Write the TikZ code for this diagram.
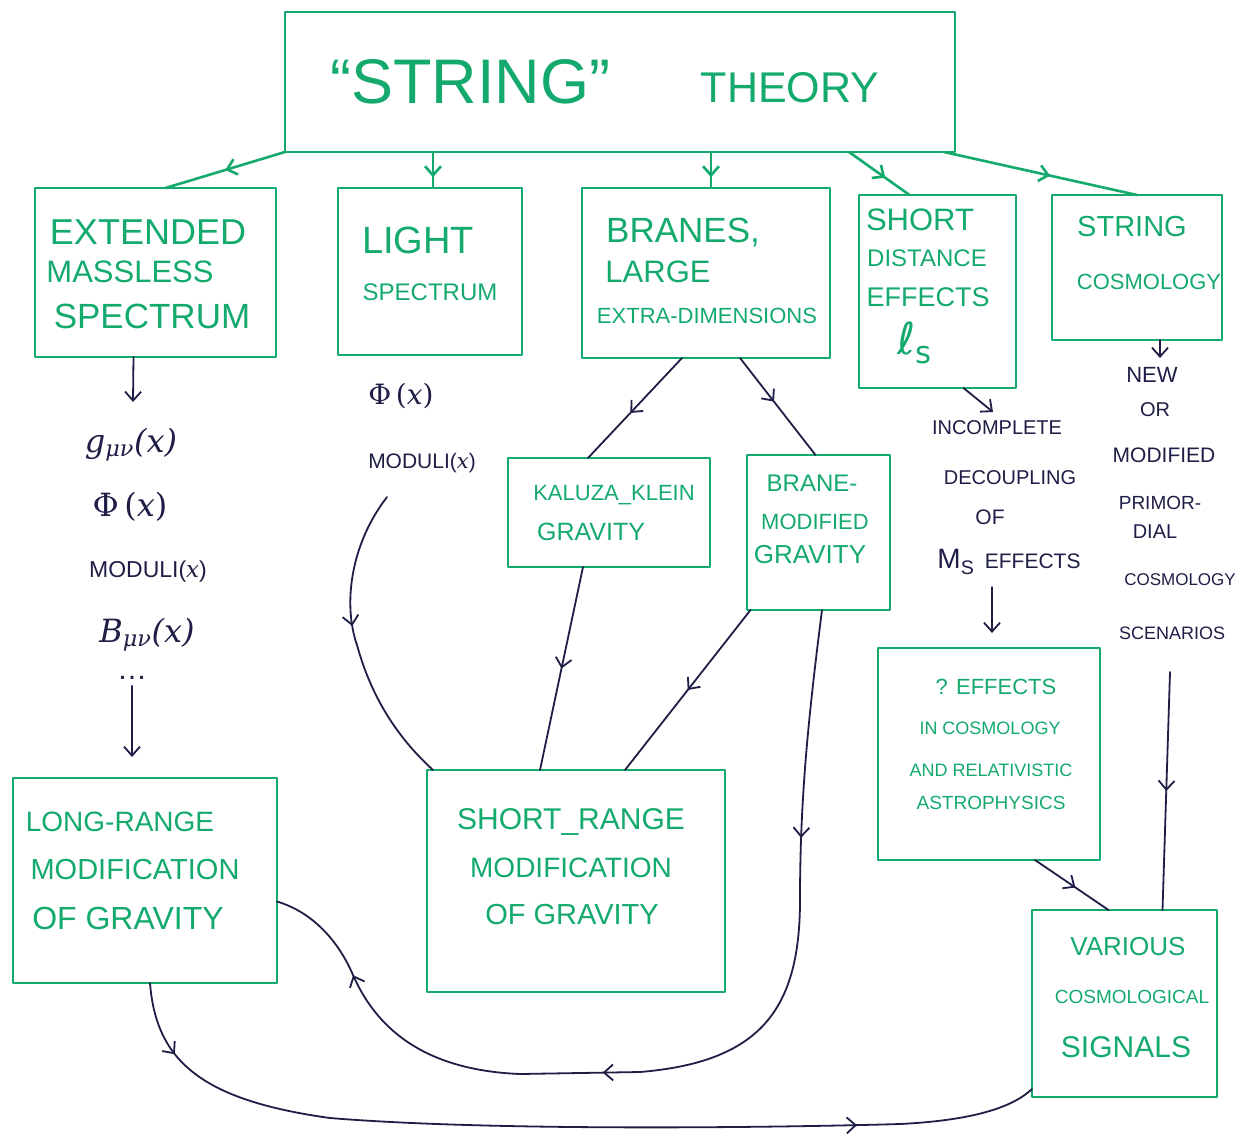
\documentclass[tikz,border=0pt]{standalone}
\usepackage{fontspec}
\setmainfont{Liberation Sans}
\newfontfamily\mfont{DejaVu Serif}
\newfontfamily\dvs{DejaVu Sans}
\usetikzlibrary{arrows.meta,decorations.markings}
\definecolor{grn}{RGB}{20,170,110}
\definecolor{inkc}{RGB}{30,30,70}
\newcommand\myfs[1]{\fontsize{#1}{#1}\selectfont}
\begin{document}
\begin{tikzpicture}[x=1pt,y=-1pt,
  gbox/.style={draw=grn, line width=2.8pt, inner sep=0pt, outer sep=0pt, line join=round},
  gline/.style={draw=grn, line width=2.6pt, line cap=round},
  iline/.style={draw=inkc, line width=1.8pt, line cap=round},
  gt/.style={text=grn, inner sep=0pt},
  it/.style={text=inkc, inner sep=0pt},
  midarr/.style={postaction={decorate,decoration={markings,mark=at position #1 with {\arrow{Straight Barb[length=9pt,width=16pt]}}}}},
  endarr/.style={-{Straight Barb[length=9pt,width=16pt]}},
]
\useasboundingbox (0,0) rectangle (1239,1140);
\fill[white] (0,0) rectangle (1239,1140);

% ---------- boxes ----------
\node[gbox, minimum width=670pt, minimum height=140pt] (top) at (620,82) {};
\node[gbox, minimum width=241pt, minimum height=169pt] (ext) at (155.5,272.5) {};
\node[gbox, minimum width=184pt, minimum height=167pt] (light) at (430,271.5) {};
\node[gbox, minimum width=248pt, minimum height=170pt] (branes) at (706,273) {};
\node[gbox, minimum width=157pt, minimum height=193pt] (short) at (937.5,291.5) {};
\node[gbox, minimum width=170pt, minimum height=145pt] (strcos) at (1137,267.5) {};
\node[gbox, minimum width=202pt, minimum height=109pt] (kk) at (609,512.5) {};
\node[gbox, minimum width=143pt, minimum height=155pt] (bm) at (818.5,532.5) {};
\node[gbox, minimum width=222pt, minimum height=212pt] (eff) at (989,754) {};
\node[gbox, minimum width=264pt, minimum height=205pt] (lr) at (145,880.5) {};
\node[gbox, minimum width=298pt, minimum height=222pt] (sr) at (576,881) {};
\node[gbox, minimum width=185pt, minimum height=187pt] (vc) at (1124.5,1003.5) {};

% ---------- green texts ----------
\node[gt] (tstr) at (470,82) {\myfs{63}“STRING”};
\node[gt] (tthe) at (790,88) {\myfs{43}THEORY};

\node[gt] (e1) at (148,232) {\myfs{36}EXTENDED};
\node[gt] (e2) at (130,272) {\myfs{31}MASSLESS};
\node[gt] (e3) at (152,316) {\myfs{35}SPECTRUM};

\node[gt] (l1) at (418,240) {\myfs{38}LIGHT};
\node[gt] (l2) at (430,292) {\myfs{24}SPECTRUM};

\node[gt] (b1) at (683,233) {\myfs{35}BRANES,};
\node[gt] (b2) at (658,272) {\myfs{31}LARGE};
\node[gt] (b3) at (707,316) {\myfs{22}EXTRA-DIMENSIONS};

\node[gt] (s1) at (920,220) {\myfs{31}SHORT};
\node[gt] (s2) at (927,258) {\myfs{24}DISTANCE};
\node[gt] (s3) at (928,297) {\myfs{27}EFFECTS};
\node[gt] (s4) at (915,343) {\myfs{44}\dvs ℓ\textsubscript{s}};

\node[gt] (c1) at (1132,227) {\myfs{29}STRING};
\node[gt] (c2) at (1149,282) {\myfs{22}COSMOLOGY};

\node[gt] (k1) at (614,495) {\myfs{22}KALUZA\_KLEIN};
\node[gt] (k2) at (591,532) {\myfs{25}GRAVITY};

\node[gt] (m1) at (812,483) {\myfs{24}BRANE-};
\node[gt] (m2) at (815,522) {\myfs{22}MODIFIED};
\node[gt] (m3) at (810,555) {\myfs{26}GRAVITY};

\node[gt] (f1) at (996,687) {\myfs{22}? EFFECTS};
\node[gt] (f2) at (990,728) {\myfs{18}IN COSMOLOGY};
\node[gt] (f3) at (991,770) {\myfs{18}AND RELATIVISTIC};
\node[gt] (f4) at (991,803) {\myfs{19}ASTROPHYSICS};

\node[gt] (r1) at (120,822) {\myfs{28}LONG-RANGE};
\node[gt] (r2) at (135,870) {\myfs{29}MODIFICATION};
\node[gt] (r3) at (128,918) {\myfs{32}OF GRAVITY};

\node[gt] (q1) at (571,822) {\myfs{30}SHORT\_RANGE};
\node[gt] (q2) at (571,868) {\myfs{28}MODIFICATION};
\node[gt] (q3) at (572,915) {\myfs{29}OF GRAVITY};

\node[gt] (v1) at (1128,947) {\myfs{26}VARIOUS};
\node[gt] (v2) at (1132,997) {\myfs{19}COSMOLOGICAL};
\node[gt] (v3) at (1126,1047) {\myfs{30}SIGNALS};

% ---------- ink texts ----------
\node[it] (g) at (131,445) {\myfs{32}\mfont\itshape g\textsubscript{μν}(x)};
\node[it] (phi) at (130,507) {\myfs{32}\mfont Φ\,(\itshape x\upshape)};
\node[it] (mod) at (148,572) {\myfs{23}MODULI({\mfont\itshape x})};
\node[it] (bmn) at (147,635) {\myfs{32}\mfont\itshape B\textsubscript{μν}(x)};
\node[it] (dots) at (132,678) {\myfs{30}…};

\node[it] (phil) at (401,396) {\myfs{28}\mfont Φ\,(\itshape x\upshape)};
\node[it] (modl) at (422,463) {\myfs{21}MODULI({\mfont\itshape x})};

\node[it] (n1) at (997,428) {\myfs{20}INCOMPLETE};
\node[it] (n2) at (1010,478) {\myfs{20}DECOUPLING};
\node[it] (n3) at (990,517) {\myfs{21}OF};
\node[it] (n4) at (1009,562) {\myfs{28}M\textsubscript{S}\,\myfs{21} EFFECTS};

\node[it] (w1) at (1152,375) {\myfs{22}NEW};
\node[it] (w2) at (1155,410) {\myfs{20}OR};
\node[it] (w3) at (1164,455) {\myfs{21}MODIFIED};
\node[it] (w4) at (1160,503) {\myfs{19}PRIMOR-};
\node[it] (w5) at (1155,532) {\myfs{20}DIAL};
\node[it] (w6) at (1180,580) {\myfs{17}COSMOLOGY};
\node[it] (w7) at (1172,633) {\myfs{18}SCENARIOS};

% ---------- free ends ----------
\coordinate (ga) at (133,402);
\coordinate (lra) at (132,757);
\coordinate (nwa) at (1160,358);
\coordinate (inca) at (993,412);
\coordinate (effa) at (992,633);
\coordinate (msa) at (992,587);
\coordinate (scn) at (1170,672);
\coordinate (mlo) at (387,497);

% ---------- green connectors ----------
\draw[gline, midarr=0.5] (top.south west) -- ([xshift=10pt]ext.north);
\draw[gline, midarr=0.7] ([xshift=-187pt]top.south) -- ([xshift=3pt]light.north);
\draw[gline, midarr=0.7] ([xshift=91pt]top.south) -- ([xshift=5pt]branes.north);
\draw[gline, midarr=0.6] ([xshift=229pt]top.south) -- ([xshift=-28pt]short.north);
\draw[gline, midarr=0.55] ([xshift=-11pt]top.south east) -- (strcos.north);

% ---------- ink connectors ----------
\draw[iline, endarr] ([xshift=-22pt]ext.south) -- (ga);
\draw[iline, endarr] ([yshift=-6pt]dots.south) -- (lra);
\draw[iline, midarr=0.45] (mlo) .. controls (350,545) and (343,605) .. (357,645)
   .. controls (372,700) and (400,740) .. ([xshift=6pt]sr.north west);
\draw[iline, midarr=0.55] ([xshift=-24pt]branes.south) -- ([xshift=-21pt]kk.north);
\draw[iline, midarr=0.45] ([xshift=34pt]branes.south) -- ([xshift=-3pt]bm.north);
\draw[iline, midarr=0.5] ([xshift=-26pt]kk.south) -- ([xshift=113pt]sr.north west);
\draw[iline, midarr=0.5] ([xshift=-68pt]bm.south) -- ([xshift=49pt]sr.north);
\draw[iline, midarr=0.23, midarr=0.6, midarr=0.89] ([xshift=3.5pt]bm.south)
   .. controls (808,720) and (800,800) .. (800,900)
   .. controls (800,1010) and (760,1062) .. (640,1072)
   -- (520,1074)
   .. controls (420,1070) and (375,1025) .. (353,975)
   .. controls (338,940) and (312,912) .. ([yshift=-21pt]lr.east);
\draw[iline, midarr=0.08, midarr=0.81] ([xshift=5pt]lr.south)
   .. controls (156,1060) and (200,1100) .. (330,1118)
   .. controls (500,1132) and (800,1127) .. (900,1124)
   .. controls (980,1120) and (1015,1105) .. ([yshift=8pt]vc.south west);
\draw[iline, endarr] ([xshift=23pt]strcos.south) -- (nwa);
\draw[iline, midarr=0.5] (scn) -- ([xshift=38pt]vc.north);
\draw[iline, endarr] ([xshift=26pt]short.south) -- (inca);
\draw[iline, endarr] (msa) -- (effa);
\draw[iline, midarr=0.55] ([xshift=46pt]eff.south) -- ([xshift=-16pt]vc.north);
\end{tikzpicture}
\end{document}
